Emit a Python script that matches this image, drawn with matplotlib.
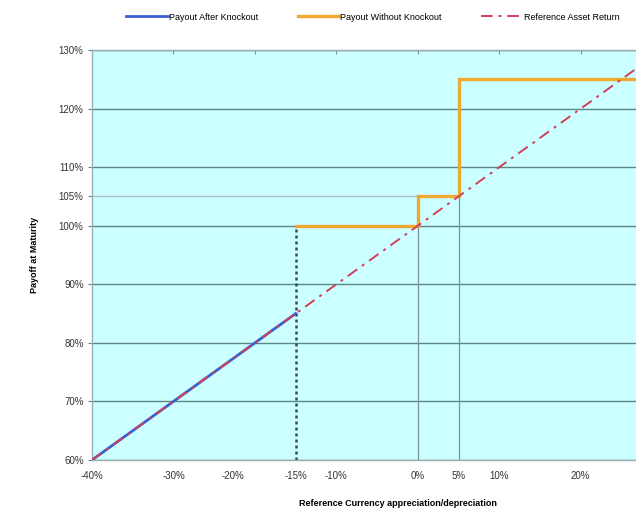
import matplotlib
matplotlib.use('Agg')
import matplotlib.pyplot as plt
import matplotlib.transforms as mtransforms

plt.rcParams['font.family'] = ['Liberation Sans', 'DejaVu Sans']

# Payout after knockout (follows the reference asset down to the barrier)
after_x = [-40, -15]
after_y = [60, 85]

# Payout without knockout (step payout)
without_x = [-15, 0, 0, 5, 5, 30]
without_y = [100, 100, 105, 105, 125, 125]

# Reference asset return
ref_x = [-40, 30]
ref_y = [60, 130]

# guide lines
barrier_x = -15
guide_x = [0, 5]
guide_top = [100, 105]

y_ticks = [60, 70, 80, 90, 100, 105, 110, 120, 130]
x_ticks = [-40, -30, -20, -15, -10, 0, 5, 10, 20]
top_ticks = [-40, -30, -20, -10, 0, 10, 20, 30]

fig = plt.figure(figsize=(6.36, 5.09), dpi=100)
ax = fig.add_axes([92 / 636, 49 / 509, 611 / 636, 410 / 509])
ax.set_facecolor('#ccffff')

ax.set_xlim(-40, 35)
ax.set_ylim(60, 130)

# horizontal grid lines
for yv in y_ticks:
    if yv == 105:
        ax.plot([-40, 5], [105, 105], color='#a9bdbd', lw=1.0, zorder=1)
    else:
        ax.axhline(yv, color='#5e8585', lw=1.0, zorder=1)

# vertical guides
ax.plot([barrier_x, barrier_x], [60, 100], color='#3a4a4a', lw=1.8,
        linestyle=(0, (1.2, 1.2)), zorder=2)
for gx, gt in zip(guide_x, guide_top):
    ax.plot([gx, gx], [60, gt], color='#7d9494', lw=0.9, zorder=2)

ax.plot(after_x, after_y, color='#3b5fd0', lw=2.0, zorder=3,
        label='Payout After Knockout')
ax.plot(without_x, without_y, color='#f0a830', lw=2.4, zorder=4,
        label='Payout Without Knockout', solid_joinstyle='miter')
ax.plot(ref_x, ref_y, color='#d0405a', lw=1.4, zorder=5,
        dashes=(6, 3, 1.5, 3), label='Reference Asset Return')

ax.set_yticks(y_ticks)
ax.set_yticklabels([f'{v}%' for v in y_ticks], fontsize=7, color='#333333')
ax.set_xticks(x_ticks)
ax.set_xticklabels([f'{v}%' for v in x_ticks], fontsize=7, color='#333333')
ax.tick_params(axis='y', length=3, color='#5e8585', pad=3)
ax.tick_params(axis='x', length=0, pad=8)

# the -20% label sits left of its tick in the original
for lab in ax.get_xticklabels():
    if lab.get_text() == '-20%':
        lab.set_transform(lab.get_transform() + mtransforms.ScaledTranslation(-0.22, 0, fig.dpi_scale_trans))

# top axis tick marks
top = ax.secondary_xaxis('top')
top.set_xticks(top_ticks)
top.set_xticklabels([])
top.tick_params(axis='x', direction='in', length=3, color='#7d9494')
top.spines['top'].set_color('#9ab0b0')

for side in ['left', 'bottom', 'top', 'right']:
    ax.spines[side].set_color('#9ab0b0')
    ax.spines[side].set_linewidth(1.0)

ax.set_ylabel('Payoff at Maturity', fontsize=6.5, fontweight='bold', labelpad=14)
ax.set_xlabel('Reference Currency appreciation/depreciation', fontsize=6.5,
              fontweight='bold', labelpad=13)

handles, labels = ax.get_legend_handles_labels()
fig.legend(handles, labels, loc='center left', bbox_to_anchor=(118 / 636, 1 - 17 / 509),
           ncol=3, frameon=False, fontsize=6.5, handlelength=4.6, handletextpad=0.1,
           columnspacing=4.4)

fig.savefig('out.png', dpi=100)
